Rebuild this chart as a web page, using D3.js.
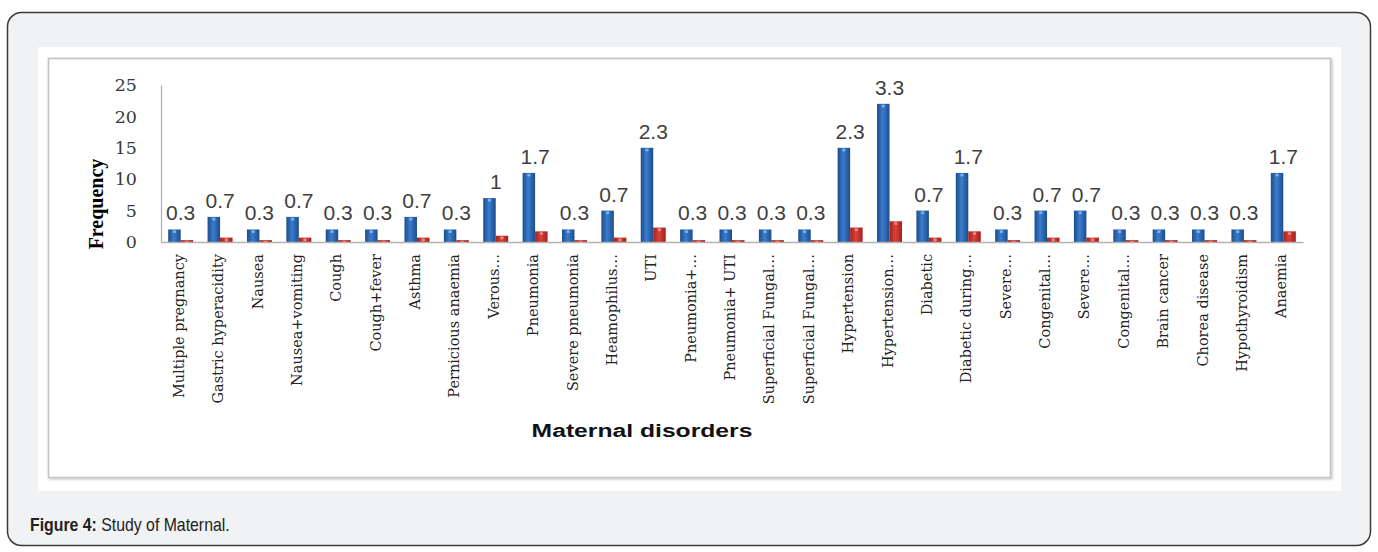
<!DOCTYPE html>
<html>
<head>
<meta charset="utf-8">
<script src="https://cdn.jsdelivr.net/npm/d3@7"></script>
<style>
  html, body { margin: 0; padding: 0; background: #ffffff; }
  svg { display: block; }
</style>
</head>
<body>
<svg id="fig" width="1378" height="552"></svg>
<script>
// Maternal disorders: frequency (blue) and percentage (red, also shown as label)
const categories = [
  "Multiple pregnancy", "Gastric hyperacidity", "Nausea", "Nausea+vomiting",
  "Cough", "Cough+fever", "Asthma", "Pernicious anaemia", "Verous…",
  "Pneumonia", "Severe pneumonia", "Heamophilus…", "UTI", "Pneumonia+…",
  "Pneumonia+ UTI", "Superficial Fungal…", "Superficial Fungal…", "Hypertension",
  "Hypertension…", "Diabetic", "Diabetic during…", "Severe…", "Congenital…",
  "Severe…", "Congenital…", "Brain cancer", "Chorea disease", "Hypothyroidism",
  "Anaemia"
];
const frequency = [2, 4, 2, 4, 2, 2, 4, 2, 7, 11, 2, 5, 15, 2, 2, 2, 2, 15, 22, 5, 11, 2, 5, 5, 2, 2, 2, 2, 11];
const percentage = [0.3, 0.7, 0.3, 0.7, 0.3, 0.3, 0.7, 0.3, 1, 1.7, 0.3, 0.7, 2.3, 0.3, 0.3, 0.3, 0.3, 2.3, 3.3, 0.7, 1.7, 0.3, 0.7, 0.7, 0.3, 0.3, 0.3, 0.3, 1.7];
const yTicks = [0, 5, 10, 15, 20, 25];
const seriesKeys = ["frequency", "percentage"];

const rows = categories.map((c, i) => ({ idx: i, name: c, frequency: frequency[i], percentage: percentage[i] }));

const svg = d3.select("#fig");

// Page card
svg.append("rect")
  .attr("x", 7.5).attr("y", 12.5).attr("width", 1363).attr("height", 533)
  .attr("rx", 14).attr("ry", 14)
  .attr("fill", "#f1f2f4").attr("stroke", "#3a3a3a").attr("stroke-width", 1.5);

// White figure panel
svg.append("rect")
  .attr("x", 38).attr("y", 47).attr("width", 1303).attr("height", 444)
  .attr("fill", "#ffffff");

const defs = svg.append("defs");
const shadow = defs.append("filter").attr("id", "frameShadow")
  .attr("x", "-2%").attr("y", "-2%").attr("width", "104%").attr("height", "104%");
shadow.append("feDropShadow").attr("dx", 1.2).attr("dy", 1.2).attr("stdDeviation", 1.2)
  .attr("flood-color", "#000").attr("flood-opacity", 0.25);

// Chart frame
svg.append("rect")
  .attr("x", 48.5).attr("y", 58.5).attr("width", 1282).attr("height", 419)
  .attr("fill", "#ffffff").attr("stroke", "#c4c4c4").attr("stroke-width", 1.6)
  .attr("filter", "url(#frameShadow)");

// Bar gradients
function barGradient(id, edge, mid) {
  const g = defs.append("linearGradient").attr("id", id)
    .attr("x1", "0%").attr("x2", "100%").attr("y1", "0%").attr("y2", "0%");
  g.append("stop").attr("offset", "0%").attr("stop-color", edge);
  g.append("stop").attr("offset", "45%").attr("stop-color", mid);
  g.append("stop").attr("offset", "100%").attr("stop-color", edge);
}
barGradient("gradBlue", "#1d4c8c", "#3a7ccc");
barGradient("gradRed", "#a3201b", "#d8423a");

const x = d3.scaleBand().domain(d3.range(categories.length)).range([161, 1303]).paddingInner(0).paddingOuter(0);
const xs = d3.scaleBand().domain(seriesKeys).range([0, x.bandwidth()]).paddingInner(0).paddingOuter(0.576);
const y = d3.scaleLinear().domain([0, 25]).range([242, 85]);

const fill = { frequency: "url(#gradBlue)", percentage: "url(#gradRed)" };
const cap = { frequency: "#7fb2ee", percentage: "#ef8a84" };

// Y axis
const yAxis = svg.append("g").attr("transform", "translate(161,0)")
  .call(d3.axisLeft(y).tickValues(yTicks).tickSize(0).tickSizeOuter(0).tickPadding(24));
yAxis.select(".domain").attr("stroke", "#b3b3b3").attr("stroke-width", 1.3);
yAxis.selectAll("text")
  .attr("font-family", "'DejaVu Serif', serif").attr("font-size", 17.5)
  .attr("fill", "#3a3a3a");

// Bars
const groups = svg.append("g").selectAll("g").data(rows).join("g")
  .attr("transform", d => `translate(${x(d.idx)},0)`);

groups.selectAll("rect.bar").data(d => seriesKeys.map(k => ({ key: k, value: d[k] })))
  .join("rect").attr("class", "bar")
  .attr("x", d => xs(d.key))
  .attr("y", d => y(d.value))
  .attr("width", xs.bandwidth())
  .attr("height", d => y(0) - y(d.value))
  .attr("fill", d => fill[d.key]);

// Small highlight at each bar top
groups.selectAll("rect.cap").data(d => seriesKeys.map(k => ({ key: k, value: d[k] })))
  .join("rect").attr("class", "cap")
  .attr("x", d => xs(d.key) + xs.bandwidth() * 0.38)
  .attr("y", d => y(d.value) + 1)
  .attr("width", xs.bandwidth() * 0.24)
  .attr("height", d => Math.min(2.5, Math.max(0, y(0) - y(d.value) - 1)))
  .attr("fill", d => cap[d.key]);

// X axis
const xAxis = svg.append("g").attr("transform", "translate(0,242)")
  .call(d3.axisBottom(x).tickFormat(i => categories[i]).tickSize(0).tickSizeOuter(0));
xAxis.select(".domain").attr("stroke", "#b3b3b3").attr("stroke-width", 1.3);
xAxis.selectAll("text")
  .attr("transform", "rotate(-90)")
  .attr("text-anchor", "end")
  .attr("x", -12).attr("y", -2).attr("dy", "0.35em")
  .attr("font-family", "'DejaVu Serif', serif").attr("font-size", 14.5)
  .attr("fill", "#222222");

// Percentage labels above each pair
groups.append("text")
  .attr("x", x.bandwidth() / 2)
  .attr("y", d => y(d.frequency) - 9)
  .attr("text-anchor", "middle")
  .attr("font-family", "'Liberation Sans', Arial, sans-serif")
  .attr("font-size", 21)
  .attr("fill", "#404040")
  .text(d => d.percentage);

// Axis titles
svg.append("text")
  .attr("transform", "translate(103,204) rotate(-90)")
  .attr("text-anchor", "middle")
  .attr("font-family", "'Liberation Serif', serif").attr("font-weight", "bold")
  .attr("font-size", 20).attr("fill", "#000")
  .text("Frequency");

svg.append("text")
  .attr("transform", "translate(642,437) scale(1.3,1)")
  .attr("text-anchor", "middle")
  .attr("font-family", "'Liberation Sans', Arial, sans-serif").attr("font-weight", "bold")
  .attr("font-size", 19).attr("fill", "#111")
  .text("Maternal disorders");

// Caption
const caption = svg.append("text")
  .attr("transform", "translate(30,531) scale(0.88,1)")
  .attr("font-family", "'Liberation Sans', Arial, sans-serif")
  .attr("font-size", 18).attr("fill", "#222");
caption.append("tspan").attr("font-weight", "bold").text("Figure 4:");
caption.append("tspan").text(" Study of Maternal.");
</script>
</body>
</html>
